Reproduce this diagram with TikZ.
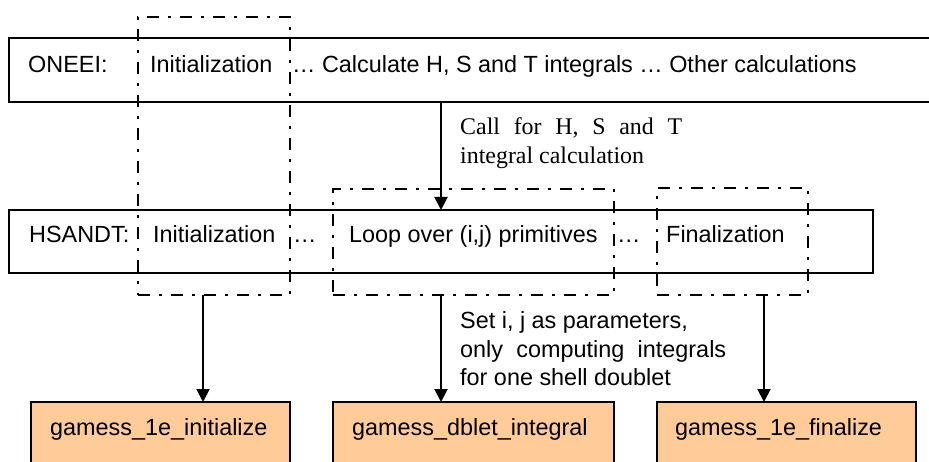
\documentclass[tikz,border=0pt]{standalone}
\usepackage{fontspec}
\setmainfont{Liberation Sans}
\newfontfamily\timesfont{Liberation Serif}
\usetikzlibrary{arrows.meta}
\definecolor{boxorange}{HTML}{FFCC99}

\begin{document}
\begin{tikzpicture}[x=1pt,y=-1pt,
	row/.style={draw,line width=1.7pt,anchor=north west,inner sep=0pt,outer sep=0pt},
	grp/.style={draw,line width=2.4pt,dash pattern=on 12pt off 9pt on 3pt off 9pt,anchor=north west,inner sep=0pt,outer sep=0pt},
	func/.style={draw,fill=boxorange,line width=1.7pt,anchor=north west,inner sep=0pt,outer sep=0pt},
	txt/.style={anchor=base west,inner sep=0pt,font=\fontsize{23.4}{28}\selectfont},
	note/.style={anchor=base west,inner sep=0pt,font=\timesfont\fontsize{23.9}{29}\selectfont},
	arr/.style={-{Triangle[length=13pt,width=13pt]},line width=2pt}]
	\useasboundingbox (0,0) rectangle (929,462);
	\clip (0,0) rectangle (929,462);

		%Rows
		\node[row,minimum width=960pt,minimum height=64pt] (oneei) at (9,38) {};
		\node[row,minimum width=864pt,minimum height=63pt] (hsandt) at (9,210) {};

		\node[txt] (oneeilbl) at (28,72.5) {ONEEI:};
		\node[txt] (oneeiinit) at (150,72.5) {Initialization};
		\node[txt] (oneeicalc) at (292,72.5) {… Calculate H, S and T integrals … Other calculations};

		\node[txt] (hsandtlbl) at (29,243) {HSANDT:};
		\node[txt] (hsinit) at (153,243) {Initialization};
		\node[txt] (hsdots1) at (293,243) {…};
		\node[txt] (hsloop) at (349,243) {Loop over (i,j) primitives};
		\node[txt] (hsdots2) at (617,243) {…};
		\node[txt] (hsfin) at (666,243) {Finalization};

		%Groups
		\node[grp,minimum width=152pt,minimum height=278pt] (initgrp) at (138,17) {};
		\node[grp,minimum width=281pt,minimum height=106pt] (loopgrp) at (333,189) {};
		\node[grp,minimum width=151pt,minimum height=107pt] (fingrp) at (657,188) {};

		%Routines
		\node[func,minimum width=259pt,minimum height=90pt] (initfn) at (31,402) {};
		\node[func,minimum width=281pt,minimum height=90pt] (dbletfn) at (333,402) {};
		\node[func,minimum width=259pt,minimum height=90pt] (finfn) at (657,402) {};
		\node[txt] (initfnlbl) at (50,435) {gamess\_1e\_initialize};
		\node[txt] (dbletfnlbl) at (352,435) {gamess\_dblet\_integral};
		\node[txt] (finfnlbl) at (675,435) {gamess\_1e\_finalize};

		%Notes
		\node[note] (callnote1) at (460,135) {\makebox[222pt][s]{Call for H, S and T}};
		\node[note] (callnote2) at (460,164) {integral calculation};
		\node[txt] (setnote1) at (460,328.5) {Set i, j as parameters,};
		\node[txt] (setnote2) at (460,357) {\makebox[266pt][s]{only computing integrals}};
		\node[txt] (setnote3) at (460,385.5) {for one shell doublet};

		%Calls
		\coordinate (initx) at (203,0);
		\coordinate (callx) at (441,0);
		\coordinate (finx) at (764,0);
		\draw[arr] (oneei.south -| callx) -- (hsandt.north -| callx);
		\draw[arr] (initgrp.south -| initx) -- (initfn.north -| initx);
		\draw[arr] (loopgrp.south -| callx) -- (dbletfn.north -| callx);
		\draw[arr] (fingrp.south -| finx) -- (finfn.north -| finx);
	\end{tikzpicture}
\end{document}
